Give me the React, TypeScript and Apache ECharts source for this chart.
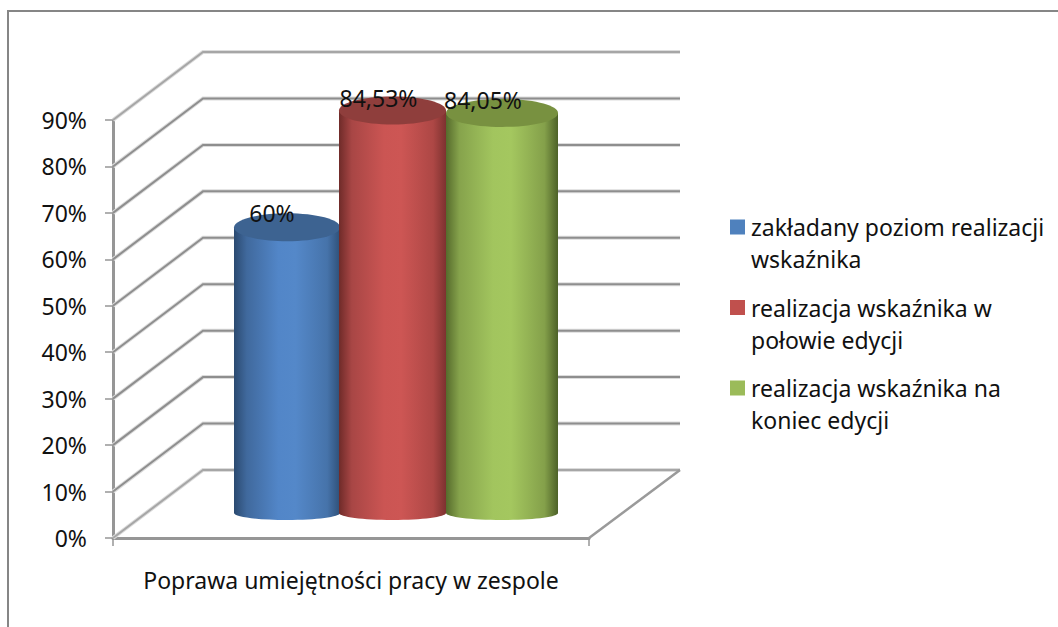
import React, { useEffect, useRef } from "react";
import * as echarts from "echarts";

const categories = ["Poprawa umiejętności pracy w zespole"];
const yTicks = [0, 10, 20, 30, 40, 50, 60, 70, 80, 90];
const seriesNames = [
  "zakładany poziom realizacji\nwskaźnika",
  "realizacja wskaźnika w\npołowie edycji",
  "realizacja wskaźnika na\nkoniec edycji",
];
const plannedValues = [60];
const midEditionValues = [84.53];
const endEditionValues = [84.05];
const valueLabels = ["60%", "84,53%", "84,05%"];

const FONT = "'Noto Sans', sans-serif";
const FONT_SIZE = 23;
const TEXT = "#111111";
const DEPTH_X = 90;
const DEPTH_Y = 68;
const BASE_LIFT = 25;
const HEIGHT_SCALE = 1.025;

const cylinders = [
  {
    cx: -64, w: 106, labelDx: -15, labelDy: -14, swatch: "#4f81bd", top: "#3d6391",
    stops: ["#2b4a70", "#40699d", "#5286c8", "#5488c9", "#4673aa", "#2f5078"],
  },
  {
    cx: 41.5, w: 107, labelDx: -14, labelDy: -13, swatch: "#c0504d", top: "#8f3e3c",
    stops: ["#6f2b29", "#a84645", "#cb5553", "#cd5654", "#ad4745", "#7d3230"],
  },
  {
    cx: 151, w: 112, labelDx: -19, labelDy: -13, swatch: "#9bbb59", top: "#789140",
    stops: ["#566b2c", "#86a34c", "#a2c55e", "#a4c75f", "#84a04a", "#4d6128"],
  },
];

function wallItem(_: any, api: any) {
  const v = api.value(1);
  const [cx, y] = api.coord([0, v]);
  const band = api.size([1, 0])[0];
  const left = cx - band / 2;
  const edge = v === 0 || v === 90;
  const main = edge ? "#a6a6a6" : "#8e8e8e";
  const pts = [[left, y], [left + DEPTH_X, y - DEPTH_Y], [left + band + DEPTH_X + 1, y - DEPTH_Y]];
  const line = (stroke: string, lineWidth: number) => ({
    type: "polyline",
    shape: { points: pts },
    style: { stroke, lineWidth, fill: "none" },
  });
  const children: any[] = [line("#dcdcdc", 4), line(main, 2)];
  if (v === 0) {
    children.push({
      type: "line",
      shape: { x1: left + band, y1: y, x2: left + band + DEPTH_X + 1, y2: y - DEPTH_Y },
      style: { stroke: "#9a9a9a", lineWidth: 2.5 },
    });
  }
  return { type: "group", children };
}

function cylinderItem(i: number) {
  const c = cylinders[i];
  return (_: any, api: any) => {
    const v = api.value(1);
    const [mid, vy] = api.coord([0, v]);
    const zeroY = api.coord([0, 0])[1];
    const cx = mid + c.cx;
    const baseY = zeroY - BASE_LIFT;
    const topY = baseY - (zeroY - vy) * HEIGHT_SCALE;
    const rx = c.w / 2;
    const n = c.stops.length - 1;
    const gradient = () =>
      new echarts.graphic.LinearGradient(0, 0, 1, 0,
        c.stops.map((color, k) => ({ offset: [0, 0.12, 0.42, 0.58, 0.88, 1][k] ?? k / n, color })));
    return {
      type: "group",
      children: [
        { type: "ellipse", shape: { cx, cy: baseY, rx, ry: 7 }, style: { fill: gradient() } },
        { type: "rect", shape: { x: cx - rx, y: topY, width: c.w, height: baseY - topY }, style: { fill: gradient() } },
        { type: "ellipse", shape: { cx, cy: topY, rx, ry: 14 }, style: { fill: c.top } },
        {
          type: "text",
          x: cx + c.labelDx,
          y: topY + c.labelDy,
          z2: 100,
          style: { text: valueLabels[i], font: `${FONT_SIZE}px ${FONT}`, fill: TEXT, align: "center", verticalAlign: "middle" },
        },
      ],
    };
  };
}

const seriesValues = [plannedValues, midEditionValues, endEditionValues];

export default function App() {
  const ref = useRef<HTMLDivElement>(null);
  useEffect(() => {
    const chart = echarts.init(ref.current!, undefined, { renderer: "svg" });
    chart.setOption({
      animation: false,
      backgroundColor: "#ffffff",
      grid: { left: 113, right: 469, top: 120, bottom: 89 },
      xAxis: {
        type: "category",
        data: categories,
        boundaryGap: true,
        axisLine: { lineStyle: { color: "#969696", width: 3 } },
        axisTick: { show: true, length: 8, lineStyle: { color: "#969696", width: 1.5 } },
        axisLabel: { interval: 0, margin: 30, fontFamily: FONT, fontSize: FONT_SIZE, color: TEXT },
      },
      yAxis: {
        type: "value",
        min: 0,
        max: 90,
        interval: 10,
        splitLine: { show: false },
        axisLine: { show: true, lineStyle: { color: "#969696", width: 3 } },
        axisTick: { show: true, length: 8, lineStyle: { color: "#969696", width: 1.5 } },
        axisLabel: { margin: 26, padding: [3, 0, 0, 0], formatter: "{value}%", fontFamily: FONT, fontSize: FONT_SIZE, color: TEXT },
      },
      legend: {
        orient: "vertical",
        left: 730,
        top: 211,
        padding: 0,
        itemWidth: 15,
        itemHeight: 47,
        itemGap: 16.5,
        selectedMode: false,
        icon: "path://M0,0H15V15H0Z M0,47L0.01,47L0,47Z",
        textStyle: { fontFamily: FONT, fontSize: FONT_SIZE, lineHeight: 32, color: TEXT, padding: [0, 0, 0, 1] },
        data: seriesNames,
      },
      graphic: [
        {
          type: "polyline",
          shape: { points: [[8, 627], [8, 11], [1058, 11]] },
          style: { stroke: "#868686", lineWidth: 2, fill: "none" },
        },
      ],
      series: [
        {
          type: "custom",
          name: "walls",
          z: 1,
          silent: true,
          renderItem: wallItem,
          data: yTicks.map((t) => [0, t]),
        },
        ...seriesNames.map((name, i) => ({
          type: "custom",
          name,
          z: 3 + i,
          itemStyle: { color: cylinders[i].swatch },
          renderItem: cylinderItem(i),
          data: seriesValues[i].map((v, k) => [k, v]),
        })),
      ],
    });
    return () => chart.dispose();
  }, []);
  return <div ref={ref} style={{ position: "fixed", left: 0, top: 0, width: 1058, height: 627 }} />;
}
